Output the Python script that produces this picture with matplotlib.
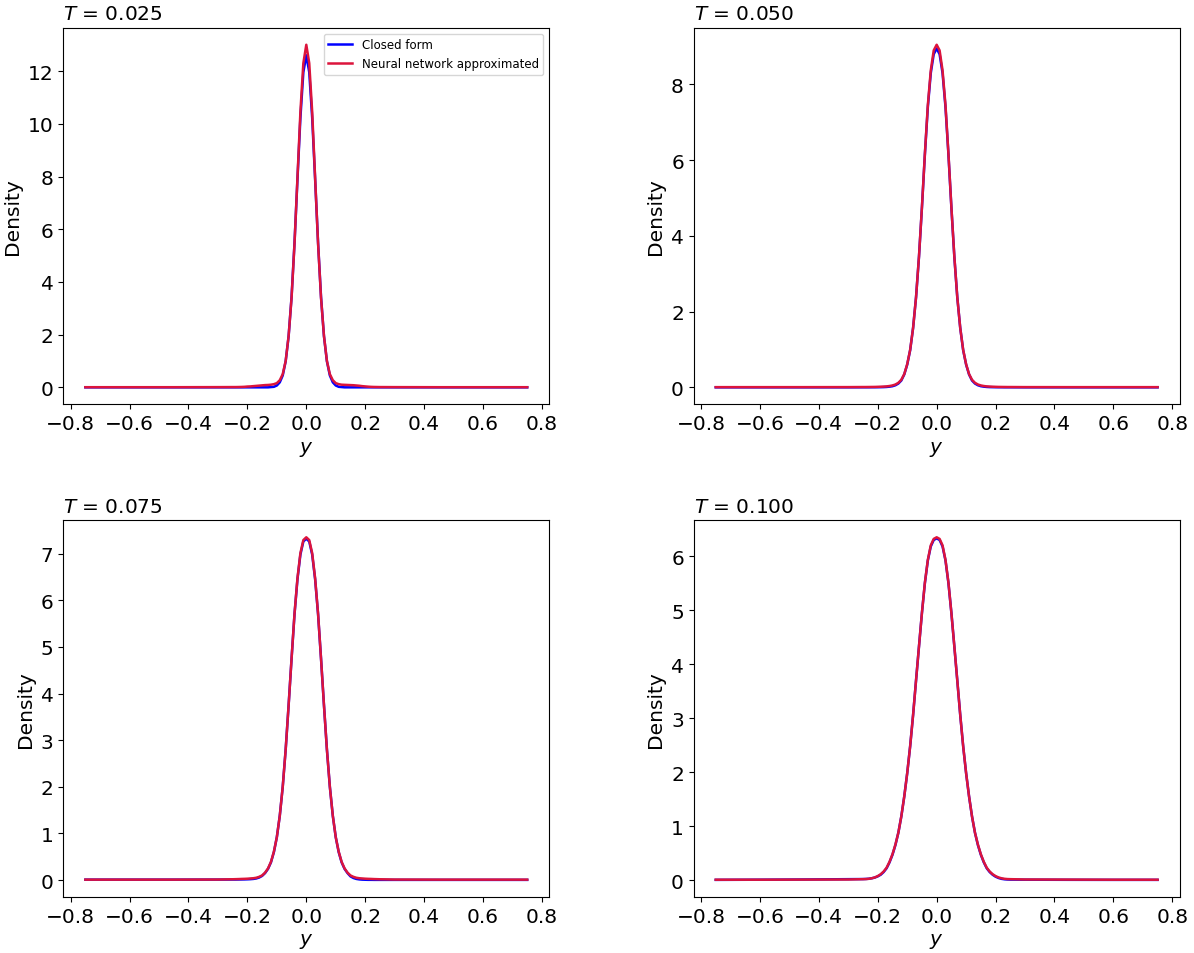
import matplotlib
matplotlib.use("Agg")
import matplotlib.pyplot as plt
from matplotlib.ticker import MultipleLocator

# shared y grid: sparse tails, dense centre (step 0.01 from -0.25 to 0.25)
y_grid = [-0.75, -0.6, -0.45, -0.3,
          -0.25, -0.24, -0.23, -0.22, -0.21, -0.20, -0.19, -0.18, -0.17, -0.16,
          -0.15, -0.14, -0.13, -0.12, -0.11, -0.10, -0.09, -0.08, -0.07, -0.06,
          -0.05, -0.04, -0.03, -0.02, -0.01,
          0.0,
          0.01, 0.02, 0.03, 0.04, 0.05, 0.06, 0.07, 0.08, 0.09, 0.10,
          0.11, 0.12, 0.13, 0.14, 0.15, 0.16, 0.17, 0.18, 0.19, 0.20,
          0.21, 0.22, 0.23, 0.24, 0.25,
          0.3, 0.45, 0.6, 0.75]

T_values = [0.025, 0.050, 0.075, 0.100]

# T = 0.025
closed_025 = [0, 0, 0, 0,
              0, 0, 0, 0, 0, 0, 0, 0, 0, 0,
              0, 0, 0.0, 0.01, 0.02, 0.07, 0.19, 0.45, 0.99, 1.94,
              3.43, 5.48, 7.89, 10.23, 11.96,
              12.6,
              11.96, 10.23, 7.89, 5.48, 3.43, 1.94, 0.99, 0.45, 0.19, 0.07,
              0.02, 0.01, 0.0, 0, 0, 0, 0, 0, 0, 0,
              0, 0, 0, 0, 0,
              0, 0, 0, 0]
nn_025 = [0.005, 0.005, 0.005, 0.008,
          0.01, 0.01, 0.012, 0.015, 0.02, 0.03, 0.035, 0.045, 0.055, 0.065,
          0.075, 0.085, 0.09, 0.10, 0.12, 0.16, 0.27, 0.50, 1.0, 1.95,
          3.40, 5.45, 7.95, 10.45, 12.3,
          13.0,
          12.3, 10.45, 7.95, 5.45, 3.40, 1.95, 1.0, 0.50, 0.27, 0.16,
          0.12, 0.10, 0.095, 0.09, 0.085, 0.08, 0.07, 0.06, 0.045, 0.035,
          0.025, 0.018, 0.014, 0.012, 0.01,
          0.008, 0.005, 0.005, 0.005]

# T = 0.050
closed_050 = [0, 0, 0, 0,
              0.001, 0.001, 0.001, 0.002, 0.002, 0.003, 0.004, 0.006, 0.01, 0.018,
              0.03, 0.055, 0.10, 0.18, 0.34, 0.60, 0.98, 1.57, 2.38, 3.45,
              4.75, 6.15, 7.40, 8.30, 8.80,
              8.95,
              8.80, 8.30, 7.40, 6.15, 4.75, 3.45, 2.38, 1.57, 0.98, 0.60,
              0.34, 0.18, 0.10, 0.055, 0.03, 0.018, 0.01, 0.006, 0.004, 0.003,
              0.002, 0.002, 0.001, 0.001, 0.001,
              0, 0, 0, 0]
nn_050 = [0.005, 0.005, 0.005, 0.006,
          0.008, 0.008, 0.009, 0.01, 0.011, 0.013, 0.016, 0.02, 0.025, 0.035,
          0.05, 0.075, 0.12, 0.20, 0.35, 0.61, 0.99, 1.57, 2.38, 3.46,
          4.76, 6.17, 7.45, 8.37, 8.90,
          9.05,
          8.90, 8.37, 7.45, 6.17, 4.76, 3.46, 2.38, 1.57, 0.99, 0.61,
          0.35, 0.20, 0.12, 0.075, 0.05, 0.035, 0.025, 0.02, 0.016, 0.013,
          0.011, 0.01, 0.009, 0.008, 0.008,
          0.006, 0.005, 0.005, 0.005]

# T = 0.075
closed_075 = [0.01, 0.01, 0.01, 0.011,
              0.012, 0.012, 0.013, 0.014, 0.015, 0.017, 0.02, 0.025, 0.035, 0.055,
              0.09, 0.15, 0.24, 0.38, 0.60, 0.92, 1.38, 2.00, 2.80, 3.75,
              4.75, 5.70, 6.45, 6.98, 7.26,
              7.32,
              7.26, 6.98, 6.45, 5.70, 4.75, 3.75, 2.80, 2.00, 1.38, 0.92,
              0.60, 0.38, 0.24, 0.15, 0.08, 0.045, 0.025, 0.015, 0.01, 0.008,
              0.006, 0.006, 0.005, 0.005, 0.005,
              0.005, 0.005, 0.005, 0.005]
nn_075 = [0.01, 0.01, 0.01, 0.012,
          0.018, 0.02, 0.022, 0.025, 0.027, 0.03, 0.035, 0.04, 0.05, 0.07,
          0.10, 0.16, 0.25, 0.39, 0.61, 0.92, 1.38, 2.00, 2.80, 3.75,
          4.75, 5.71, 6.47, 7.01, 7.29,
          7.35,
          7.29, 7.01, 6.47, 5.71, 4.75, 3.75, 2.80, 2.00, 1.38, 0.92,
          0.61, 0.39, 0.25, 0.16, 0.10, 0.07, 0.05, 0.04, 0.035, 0.03,
          0.027, 0.025, 0.022, 0.02, 0.018,
          0.012, 0.01, 0.01, 0.01]

# T = 0.100
closed_100 = [0.005, 0.008, 0.012, 0.018,
              0.02, 0.022, 0.026, 0.035, 0.048, 0.07, 0.10, 0.15, 0.22, 0.33,
              0.47, 0.65, 0.88, 1.18, 1.55, 1.98, 2.48, 3.06, 3.70, 4.33,
              4.95, 5.50, 5.92, 6.18, 6.30,
              6.33,
              6.30, 6.18, 5.92, 5.50, 4.95, 4.33, 3.70, 3.06, 2.48, 1.98,
              1.55, 1.18, 0.88, 0.65, 0.47, 0.33, 0.22, 0.15, 0.10, 0.064,
              0.04, 0.024, 0.016, 0.012, 0.01,
              0.008, 0.006, 0.005, 0.005]
nn_100 = [0.008, 0.008, 0.01, 0.012,
          0.018, 0.02, 0.025, 0.035, 0.05, 0.075, 0.11, 0.16, 0.23, 0.34,
          0.48, 0.66, 0.88, 1.18, 1.55, 1.98, 2.48, 3.06, 3.70, 4.33,
          4.95, 5.51, 5.93, 6.20, 6.32,
          6.35,
          6.32, 6.20, 5.93, 5.51, 4.95, 4.33, 3.70, 3.06, 2.48, 1.98,
          1.55, 1.18, 0.88, 0.66, 0.48, 0.34, 0.23, 0.16, 0.11, 0.075,
          0.05, 0.035, 0.025, 0.02, 0.018,
          0.012, 0.01, 0.008, 0.008]

closed_all = [closed_025, closed_050, closed_075, closed_100]
nn_all = [nn_025, nn_050, nn_075, nn_100]

fig, axes = plt.subplots(2, 2, figsize=(11.94, 9.54), dpi=100)
fig.subplots_adjust(left=0.053, right=0.988, top=0.97, bottom=0.0587,
                    wspace=0.297, hspace=0.307)

for ax, T, cf, nn in zip(axes.flat, T_values, closed_all, nn_all):
    ax.plot(y_grid, cf, color="blue", lw=1.8, label="Closed form")
    ax.plot(y_grid, nn, color="crimson", lw=1.8, label="Neural network approximated")
    ax.set_title(r"$T$ = " + f"{T:.3f}", loc="left", fontsize=14.5)
    ax.set_xlabel(r"$y$", fontsize=14.5)
    ax.set_ylabel("Density", fontsize=14.5)
    ax.xaxis.set_major_locator(MultipleLocator(0.2))
    ax.tick_params(labelsize=14.5)

axes[0, 0].legend(loc="upper right", fontsize=8.5)

fig.savefig("out.png", dpi=100)
